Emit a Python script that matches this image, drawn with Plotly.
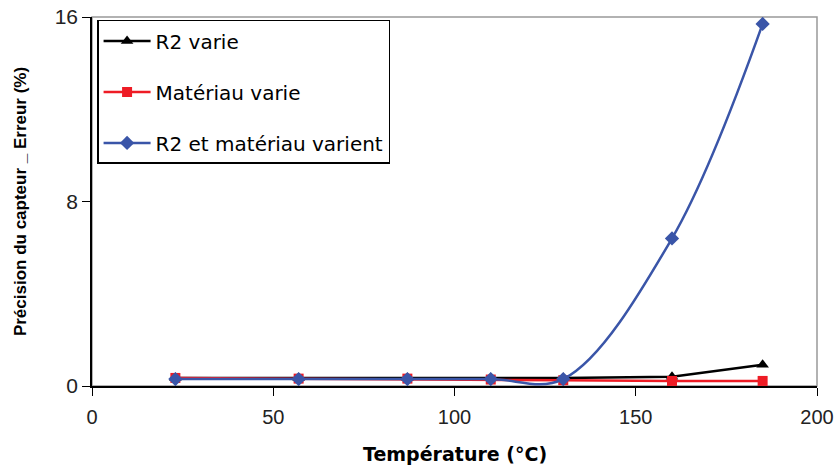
import plotly.graph_objects as go

temperature = [23, 57, 87, 110, 130, 160, 185]
r2_varie = [0.35, 0.35, 0.35, 0.35, 0.35, 0.4, 0.92]
materiau_varie = [0.35, 0.32, 0.32, 0.28, 0.25, 0.22, 0.22]
r2_materiau = [0.3, 0.3, 0.3, 0.3, 0.3, 6.4, 15.7]

names = ["R2 varie", "Matériau varie", "R2 et matériau varient"]

fig = go.Figure()
fig.add_trace(go.Scatter(x=temperature, y=r2_varie, name=names[0], mode="lines+markers",
                         line=dict(color="black", width=2.5),
                         marker=dict(symbol="triangle-up", size=11, color="black"),
                         legendgroup="a"))
fig.add_trace(go.Scatter(x=temperature, y=materiau_varie, name=names[1], mode="lines+markers",
                         line=dict(color="#ee1c25", width=2.5),
                         marker=dict(symbol="square", size=10, color="#ee1c25"),
                         legendgroup="b"))
fig.add_trace(go.Scatter(x=temperature, y=r2_materiau, name=names[2], mode="lines+markers",
                         line=dict(color="#3a55a8", width=2.5, shape="spline", smoothing=1),
                         marker=dict(symbol="diamond", size=11, color="#3a55a8"),
                         legendgroup="c"))

x_tick_font = dict(family="Liberation Sans, Arial, sans-serif", size=20, color="#222")
y_tick_font = dict(family="Liberation Sans, Arial, sans-serif", size=21, color="#222")

fig.update_layout(
    width=834, height=466,
    margin=dict(l=92, r=17, t=17, b=80),
    paper_bgcolor="white", plot_bgcolor="white",
    font=dict(family="DejaVu Sans, sans-serif", size=19, color="black"),
    showlegend=True,
    legend=dict(x=0.007, y=0.992, xanchor="left", yanchor="top",
                bordercolor="black", borderwidth=1.5, bgcolor="white",
                font=dict(family="DejaVu Sans, sans-serif", size=20), tracegroupgap=22, itemwidth=47),
    xaxis=dict(range=[0, 200], tickvals=[0, 50, 100, 150, 200], showgrid=False, zeroline=False,
               automargin=False,
               showline=True, linecolor="black", linewidth=1.5, ticks="outside", ticklen=8,
               tickcolor="black", tickfont=x_tick_font, ticklabelstandoff=4),
    yaxis=dict(range=[0, 16], tickvals=[0, 8, 16], showgrid=False, zeroline=False,
               automargin=False,
               showline=True, linecolor="black", linewidth=1.5, ticks="outside", ticklen=8,
               tickcolor="black", tickfont=y_tick_font,
               title=dict(text="<b>Précision du capteur _ Erreur (%)</b>",
                          font=dict(family="Liberation Sans, Arial, sans-serif", size=17), standoff=24)),
    annotations=[dict(text="<b>Température (°C)</b>", xref="paper", yref="paper", x=0.5, y=0,
                      xanchor="center", yanchor="top", yshift=-55, showarrow=False,
                      font=dict(family="DejaVu Sans, sans-serif", size=19, color="black"))],
    shapes=[dict(type="rect", xref="paper", yref="paper", x0=0, y0=0, x1=1, y1=1,
                 line=dict(color="#999999", width=1.5), layer="below")],
)

fig.write_html("out.html", config={"displayModeBar": False},
               post_script="document.body.style.margin='0';document.body.style.overflow='hidden';")
